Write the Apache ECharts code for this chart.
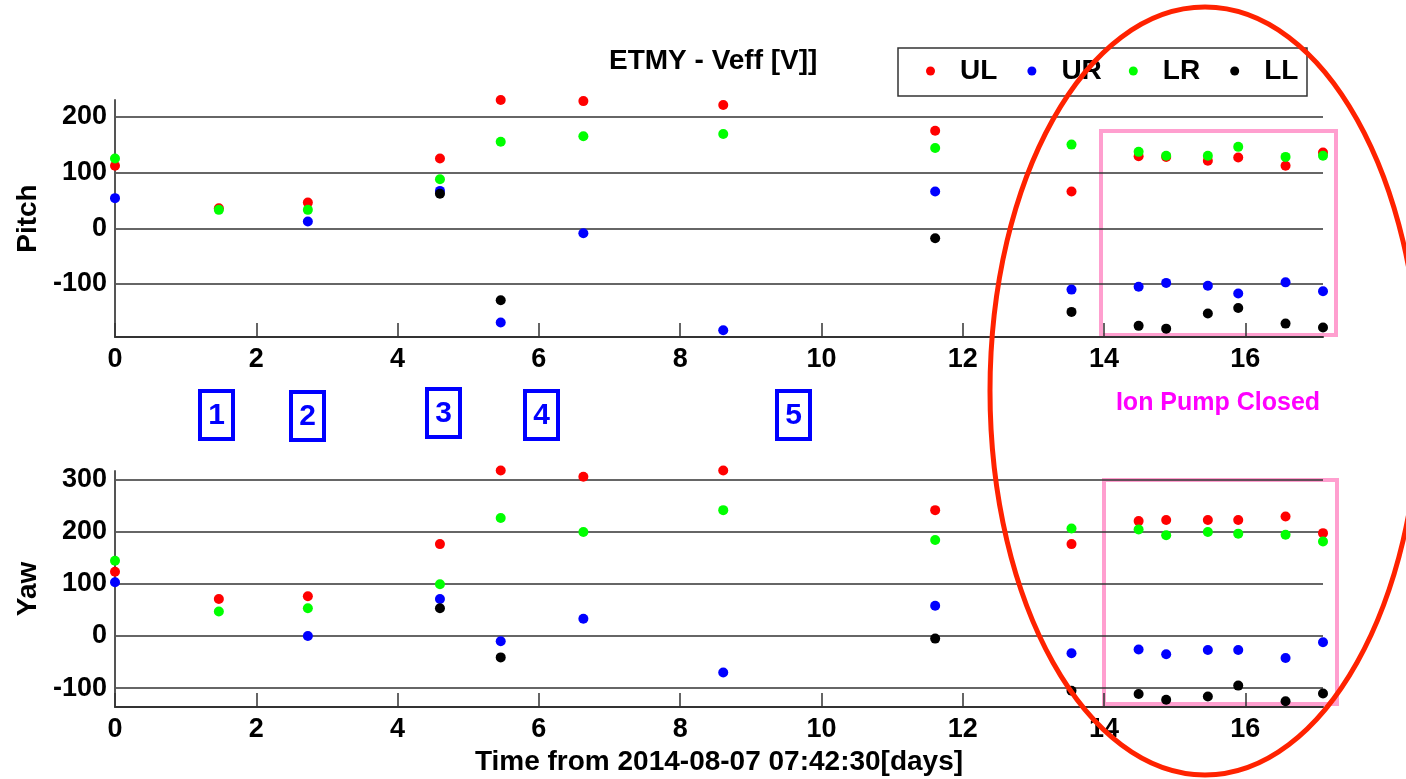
<!DOCTYPE html>
<html>
<head>
<meta charset="utf-8">
<title>ETMY - Veff</title>
<script src="https://cdn.jsdelivr.net/npm/echarts@6/dist/echarts.min.js"></script>
<style>
  html, body { margin:0; padding:0; background:#fff; }
  #main { width:1406px; height:779px; }
</style>
</head>
<body>
<div id="main"></div>
<script>
// days since 2014-08-07 07:42:30
var days = [0, 1.47, 2.73, 4.60, 5.46, 6.63, 8.61, 11.61, 13.54, 14.49, 14.88, 15.47, 15.90, 16.57, 17.10]

// Pitch [V]
var pitchUL = [112, 36, 46, 125, 230, 228, 221, 175, 66, 129, 128, 121, 127, 112, 136]
var pitchUR = [54, null, 12, 67, -169, -9, -183, 66, -110, -105, -98, -103, -117, -97, -113]
var pitchLR = [125, 33, 33, 88, 155, 165, 169, 144, 150, 137, 130, 130, 146, 128, 130]
var pitchLL = [null, null, null, 62, -129, null, null, -18, -150, -175, -180, -153, -143, -171, -178]

// Yaw [V]
var yawUL = [123, 71, 76, 176, 317, 305, 317, 241, 176, 220, 222, 222, 222, 229, 197]
var yawUR = [103, null, 0, 71, -10, 33, -70, 58, -33, -26, -35, -27, -27, -42, -12]
var yawLR = [144, 47, 53, 99, 226, 199, 241, 184, 206, 204, 193, 199, 196, 194, 181]
var yawLL = [null, null, null, 53, -41, null, null, -5, -105, -111, -122, -116, -95, -125, -110]

var xTicks = [0, 2, 4, 6, 8, 10, 12, 14, 16]
var names = ['UL', 'UR', 'LR', 'LL']
var colors = ['#ff0000', '#0000ff', '#00ff00', '#000000']

var FONT = 'Liberation Sans'

function pts(ys) {
  var out = []
  for (var i = 0; i < days.length; i++) {
    if (ys[i] != null) out.push([days[i], ys[i]])
  }
  return out
}

function dots(k, ys, idx) {
  return {
    name: names[k], type: 'scatter', xAxisIndex: idx, yAxisIndex: idx,
    symbol: 'circle', symbolSize: 10, clip: false,
    itemStyle: { color: colors[k], opacity: 1 },
    data: pts(ys)
  }
}

function xAx(idx, name) {
  return {
    type: 'value', gridIndex: idx, min: 0, max: 17.1,
    name: name, nameLocation: 'middle', nameGap: 41,
    nameTextStyle: { fontFamily: FONT, fontWeight: 'bold', fontSize: 28, color: '#000' },
    axisLine: { onZero: false, lineStyle: { color: '#333', width: 2 } },
    axisTick: { inside: true, length: 14, customValues: xTicks, lineStyle: { color: '#333', width: 1.5 } },
    axisLabel: { customValues: xTicks, margin: 9, fontFamily: FONT, fontWeight: 'bold', fontSize: 27, color: '#000' },
    splitLine: { show: false }
  }
}

function yAx(idx, name, lo, hi) {
  return {
    type: 'value', gridIndex: idx, min: lo, max: hi,
    name: name, nameLocation: 'middle', nameGap: 72,
    nameTextStyle: { fontFamily: FONT, fontWeight: 'bold', fontSize: 28, color: '#000' },
    axisLine: { show: true, lineStyle: { color: '#555', width: 2 } },
    axisTick: { show: false },
    axisLabel: { showMinLabel: false, showMaxLabel: false, margin: 8, fontFamily: FONT, fontWeight: 'bold', fontSize: 27, color: '#000' },
    splitLine: { show: true, showMinLine: false, showMaxLine: false, lineStyle: { color: '#333', width: 1.5 } }
  }
}

// 1..5 markers between the plots
var boxes = [[198, 389, '1'], [289, 390, '2'], [425, 387, '3'], [523, 389, '4'], [775, 389, '5']]
var graphics = []
boxes.forEach(function (b) {
  graphics.push({ type: 'rect', shape: { x: b[0] + 2, y: b[1] + 2, width: 33, height: 48 },
    style: { fill: 'none', stroke: '#0000ff', lineWidth: 4 } })
  graphics.push({ type: 'text', x: b[0] + 18.5, y: b[1] + 27,
    style: { text: b[2], font: 'bold 30px ' + FONT, fill: '#0000ff', textAlign: 'center', textVerticalAlign: 'middle' } })
})
// pink boxes + label
graphics.push({ type: 'rect', shape: { x: 1101, y: 131, width: 235, height: 204 },
  style: { fill: 'none', stroke: '#ff9fcf', lineWidth: 4 } })
graphics.push({ type: 'rect', shape: { x: 1104, y: 480, width: 233, height: 224 },
  style: { fill: 'none', stroke: '#ff9fcf', lineWidth: 4 } })
graphics.push({ type: 'text', x: 1218, y: 403,
  style: { text: 'Ion Pump Closed', font: 'bold 25px ' + FONT, fill: '#ff00ff', textAlign: 'center', textVerticalAlign: 'middle' } })
// legend frame
graphics.push({ type: 'rect', shape: { x: 898, y: 48, width: 409, height: 48 },
  style: { fill: 'none', stroke: '#333', lineWidth: 1.5 } })
// red ellipse
graphics.push({ type: 'ellipse', z: 100, shape: { cx: 1205, cy: 391, rx: 215, ry: 384 },
  style: { fill: 'none', stroke: '#ff2200', lineWidth: 5 } })

var chart = echarts.init(document.getElementById('main'))
var option = {
  animation: false,
  backgroundColor: '#fff',
  title: {
    text: 'ETMY - Veff [V]]', left: 609, top: 47, padding: 0,
    textStyle: { fontFamily: FONT, fontWeight: 'bold', fontSize: 28, color: '#000' }
  },
  legend: {
    data: names, left: 926, top: 56, padding: 0,
    icon: 'circle', itemWidth: 9, itemHeight: 9, itemGap: 17.4,
    itemStyle: { opacity: 1 },
    textStyle: { fontFamily: FONT, fontWeight: 'bold', fontSize: 28, color: '#000', width: 50, lineHeight: 30, padding: [0, 0, 0, 20] }
  },
  grid: [
    { left: 115, top: 100, width: 1208, height: 237 },
    { left: 115, top: 471, width: 1208, height: 236 }
  ],
  xAxis: [xAx(0, ''), xAx(1, 'Time from 2014-08-07 07:42:30[days]')],
  yAxis: [yAx(0, 'Pitch', -195, 230), yAx(1, 'Yaw', -136, 316)],
  series: [
    dots(0, pitchUL, 0), dots(1, pitchUR, 0), dots(2, pitchLR, 0), dots(3, pitchLL, 0),
    dots(0, yawUL, 1), dots(1, yawUR, 1), dots(2, yawLR, 1), dots(3, yawLL, 1)
  ],
  graphic: graphics
}
chart.setOption(option)
</script>
</body>
</html>
